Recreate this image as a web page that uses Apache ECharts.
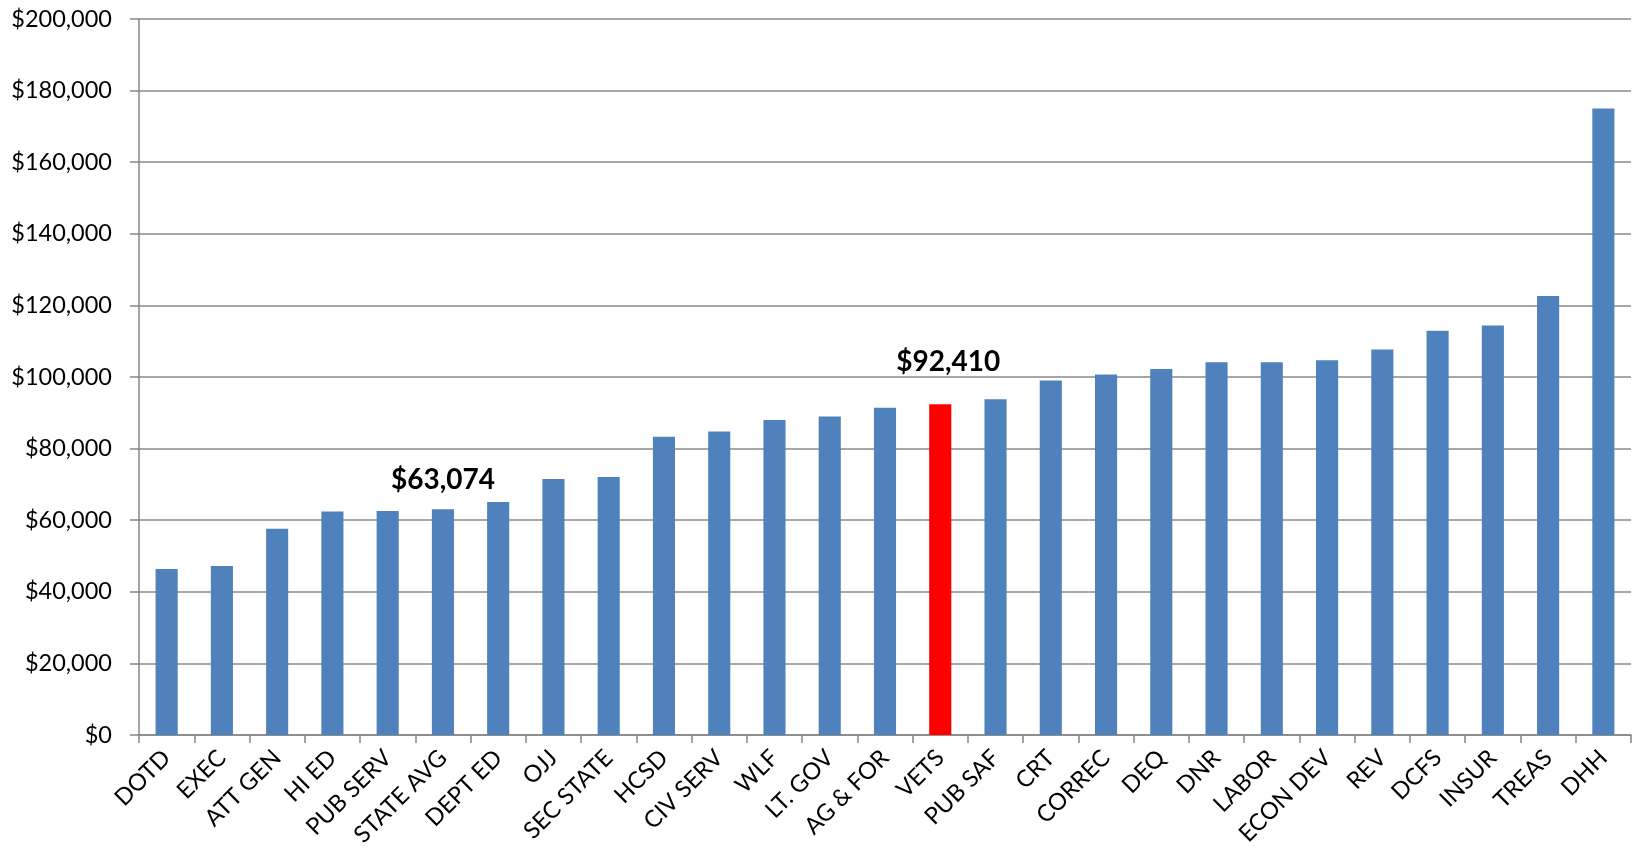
<!DOCTYPE html>
<html>
<head>
<meta charset="utf-8">
<script src="https://cdn.jsdelivr.net/npm/echarts@6/dist/echarts.min.js"></script>
<style>
  html, body { margin: 0; padding: 0; background: #fff; }
  #chart { width: 1640px; height: 858px; }
</style>
</head>
<body>
<div id="chart"></div>
<script>
const categories = ['DOTD', 'EXEC', 'ATT GEN', 'HI ED', 'PUB SERV', 'STATE AVG', 'DEPT ED', 'OJJ',
  'SEC STATE', 'HCSD', 'CIV SERV', 'WLF', 'LT. GOV', 'AG & FOR', 'VETS', 'PUB SAF', 'CRT',
  'CORREC', 'DEQ', 'DNR', 'LABOR', 'ECON DEV', 'REV', 'DCFS', 'INSUR', 'TREAS', 'DHH']
const salaries = [46400, 47200, 57600, 62400, 62600, 63074, 65100, 71500, 72100, 83300, 84800,
  88000, 89000, 91400, 92410, 93800, 99000, 100700, 102200, 104100, 104100, 104700, 107700,
  112900, 114400, 122600, 175000]
const yTicks = [0, 20000, 40000, 60000, 80000, 100000, 120000, 140000, 160000, 180000, 200000]
const highlighted = 'VETS'
const labelled = ['STATE AVG', 'VETS']

const fmt = (v) => '$' + Number(v).toLocaleString('en-US')
const font = 'Lato, "Open Sans", sans-serif'

const barData = salaries.map((v, i) => {
  const name = categories[i]
  const item = { value: v }
  if (name === highlighted) item.itemStyle = { color: '#ff0000' }
  if (labelled.includes(name)) {
    item.label = {
      show: true,
      position: 'top',
      distance: name === highlighted ? 28 : 15,
      offset: name === highlighted ? [8, 0] : [0, 0],
      formatter: (p) => fmt(p.value),
      fontFamily: font,
      fontSize: 28,
      fontWeight: 'bold',
      color: '#000',
    }
  }
  return item
})

const chart = echarts.init(document.getElementById('chart'))

chart.setOption({
  animation: false,
  grid: { left: 139, right: 9, top: 19, bottom: 123, containLabel: false },
  xAxis: {
    type: 'category',
    data: categories,
    axisLine: { lineStyle: { color: '#868686', width: 1.5 } },
    axisTick: { show: true, length: 8, alignWithLabel: false, lineStyle: { color: '#868686', width: 1.5 } },
    axisLabel: {
      interval: 0,
      rotate: 45,
      margin: 19,
      color: '#000',
      fontFamily: font,
      fontSize: 23.5,
    },
  },
  yAxis: {
    type: 'value',
    min: yTicks[0],
    max: yTicks[yTicks.length - 1],
    interval: yTicks[1] - yTicks[0],
    axisLine: { show: true, lineStyle: { color: '#868686', width: 1.5 } },
    axisTick: { show: true, length: 9, lineStyle: { color: '#868686', width: 1.5 } },
    splitLine: { lineStyle: { color: '#8a8a8a', width: 1.5 } },
    axisLabel: {
      margin: 27,
      color: '#000',
      fontFamily: font,
      fontSize: 23.5,
      formatter: fmt,
    },
  },
  series: [
    {
      type: 'bar',
      data: barData,
      barWidth: '40%',
      itemStyle: { color: '#4f81bd' },
    },
  ],
})
</script>
</body>
</html>
